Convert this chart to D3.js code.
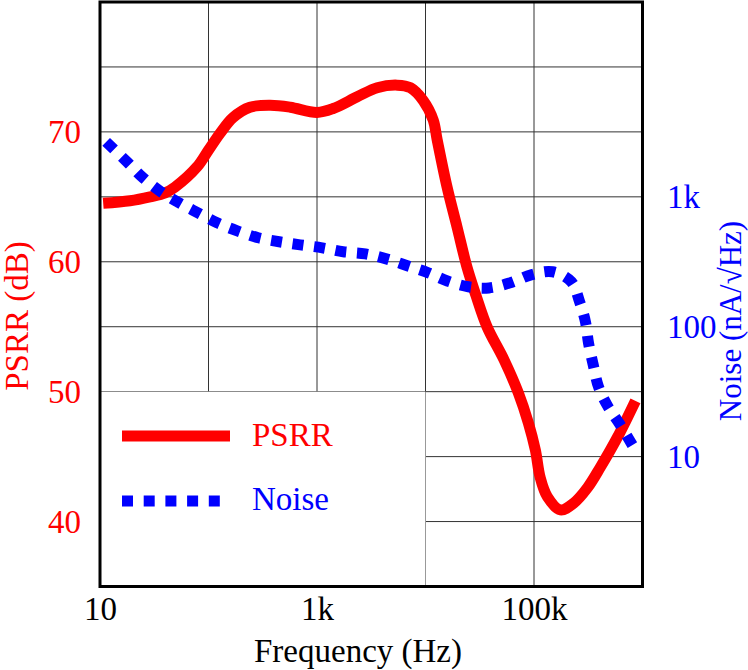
<!DOCTYPE html>
<html>
<head>
<meta charset="utf-8">
<script src="https://cdn.jsdelivr.net/npm/d3@7"></script>
<style>
  body { margin: 0; background: #fff; }
  svg text { font-family: "Liberation Serif", "Times New Roman", Times, "DejaVu Serif", serif; font-size: 33px; }
</style>
</head>
<body>
<div id="chart"></div>
<script>
// PSRR curve (Hz, dB)
const psrrFreq = [10.7, 18.9, 28.9, 39.8, 49.1, 78.3, 100, 128, 168, 241, 370, 566, 1000, 1410, 2350, 3590, 5490, 7240, 9550,
  11800, 12800, 15800, 19500, 24100, 29200, 36900, 53300, 71800, 88700, 103000, 114000, 133000, 175000, 231000, 311000, 410000, 588000, 861000];
const psrrDb = [64.5, 64.7, 65.0, 65.3, 65.75, 67.3, 68.6, 69.9, 71.1, 71.9, 72.05, 71.9, 71.5, 71.8, 72.7, 73.4, 73.6, 73.4, 72.4,
  70.9, 69.4, 65.75, 62.7, 59.6, 57.4, 55.0, 52.4, 49.9, 47.6, 45.5, 43.4, 41.9, 40.9, 41.4, 42.6, 44.2, 46.5, 49.3];

// Noise curve (Hz, nA/sqrt(Hz))
const noiseFreq = [11.4, 18.1, 25, 36.6, 53.5, 80, 120, 184, 287, 448, 700, 1117, 1740, 2785, 4350, 6790, 10600, 15900,
  24800, 38500, 60500, 94000, 148000, 221000, 263000, 298000, 318000, 353000, 393000, 475000, 614000, 810000];
const noiseVal = [2650, 1830, 1400, 1090, 900, 753, 631, 547, 484, 451, 427, 405, 378, 364, 333, 295, 260, 225,
  203, 199, 218, 251, 265, 222, 156, 109, 75, 50, 34.5, 24.7, 17.9, 12.2];

// axes
const xTicks = [10, 1e3, 1e5];
const xTickLabels = ["10", "1k", "100k"];
const xGrid = [100, 1e3, 1e4, 1e5];
const psrrTicks = [40, 50, 60, 70];
const psrrGrid = [40, 45, 50, 55, 60, 65, 70, 75];
const noiseTicks = [10, 100, 1000];
const noiseTickLabels = ["10", "100", "1k"];
const legendKeys = ["PSRR", "Noise"];

const red = "#ff0000";
const blue = "#0000ff";
const serif = '"Liberation Serif", "Times New Roman", Times, "DejaVu Serif", serif';

const margin = { top: 2, right: 105.5, bottom: 83.5, left: 100 };
const width = 748 - margin.left - margin.right;
const height = 670 - margin.top - margin.bottom;

const xScale = d3.scaleLog().domain([10, 1e6]).range([0, width]);
const yScale = d3.scaleLinear().domain([35, 80]).range([height, 0]);
const yNoise = d3.scaleLog().domain([1, Math.pow(10, 4.5)]).range([height, 0]);

const root = d3.select("#chart")
  .append("svg")
  .attr("width", 748)
  .attr("height", 670)
  .attr("font-family", serif);

const svg = root.append("g")
  .attr("transform", `translate(${margin.left},${margin.top})`);

// grid
svg.selectAll(".hgrid")
  .data(psrrGrid)
  .enter()
  .append("line")
  .attr("x1", 0)
  .attr("x2", width)
  .attr("y1", d => yScale(d))
  .attr("y2", d => yScale(d))
  .attr("stroke", "#333")
  .attr("stroke-width", 1);

svg.selectAll(".vgrid")
  .data(xGrid)
  .enter()
  .append("line")
  .attr("x1", d => xScale(d))
  .attr("x2", d => xScale(d))
  .attr("y1", 0)
  .attr("y2", height)
  .attr("stroke", "#333")
  .attr("stroke-width", 1);

// legend background hides the grid in the lower left
const legendRight = xScale(1e4);
const legendTop = yScale(50);
svg.append("rect")
  .attr("x", 0)
  .attr("y", legendTop)
  .attr("width", legendRight)
  .attr("height", height - legendTop)
  .attr("fill", "#fff");

// curves
const psrrData = psrrFreq.map((f, i) => [f, psrrDb[i]]);
const noiseData = noiseFreq.map((f, i) => [f, noiseVal[i]]);

const psrrLine = d3.line()
  .x(d => xScale(d[0]))
  .y(d => yScale(d[1]))
  .curve(d3.curveCatmullRom.alpha(0.5));

const noiseLine = d3.line()
  .x(d => xScale(d[0]))
  .y(d => yNoise(d[1]))
  .curve(d3.curveCatmullRom.alpha(0.5));

svg.append("path")
  .attr("fill", "none")
  .attr("stroke", red)
  .attr("stroke-width", 11)
  .attr("d", psrrLine(psrrData));

svg.append("path")
  .attr("fill", "none")
  .attr("stroke", blue)
  .attr("stroke-width", 11)
  .attr("stroke-dasharray", "11,10.7")
  .attr("d", noiseLine(noiseData));

// legend
const legendColor = d3.scaleOrdinal().domain(legendKeys).range([red, blue]);
svg.selectAll(".legline")
  .data(legendKeys)
  .enter()
  .append("line")
  .attr("x1", 22)
  .attr("x2", 130)
  .attr("y1", (d, i) => 434 + i * 65)
  .attr("y2", (d, i) => 434 + i * 65)
  .attr("stroke", d => legendColor(d))
  .attr("stroke-width", 11)
  .attr("stroke-dasharray", (d, i) => i === 1 ? "11,10.7" : null);

svg.selectAll(".leglabel")
  .data(legendKeys)
  .enter()
  .append("text")
  .attr("x", 152)
  .attr("y", (d, i) => 444 + i * 64)
  .attr("fill", d => legendColor(d))
  .text(d => d);

// axes (labels only)
const xAxis = svg.append("g")
  .attr("transform", `translate(0,${height})`)
  .call(d3.axisBottom(xScale)
    .tickValues(xTicks)
    .tickFormat((d, i) => xTickLabels[i])
    .tickSize(0)
    .tickPadding(10));

const leftAxis = svg.append("g")
  .call(d3.axisLeft(yScale)
    .tickValues(psrrTicks)
    .tickSize(0)
    .tickPadding(19));

const rightAxis = svg.append("g")
  .attr("transform", `translate(${width},0)`)
  .call(d3.axisRight(yNoise)
    .tickValues(noiseTicks)
    .tickFormat((d, i) => noiseTickLabels[i])
    .tickSize(0)
    .tickPadding(24.5));

[xAxis, leftAxis, rightAxis].forEach(g => {
  g.attr("font-family", serif).attr("font-size", 33);
  g.select(".domain").remove();
});
xAxis.selectAll("text").attr("fill", "#000");
leftAxis.selectAll("text").attr("fill", red);
rightAxis.selectAll("text").attr("fill", blue);

// frame
svg.append("rect")
  .attr("x", 0)
  .attr("y", 0)
  .attr("width", width)
  .attr("height", height)
  .attr("fill", "none")
  .attr("stroke", "#000")
  .attr("stroke-width", 3);

// axis titles
root.append("text")
  .attr("x", 358)
  .attr("y", 662)
  .style("text-anchor", "middle")
  .attr("fill", "#000")
  .text("Frequency (Hz)");

root.append("text")
  .attr("transform", "translate(28,316) rotate(-90)")
  .style("text-anchor", "middle")
  .attr("fill", red)
  .text("PSRR (dB)");

root.append("text")
  .attr("transform", "translate(741,321) rotate(-90)")
  .style("text-anchor", "middle")
  .style("font-size", "31px")
  .attr("fill", blue)
  .text("Noise (nA/\u221AHz)");
</script>
</body>
</html>
